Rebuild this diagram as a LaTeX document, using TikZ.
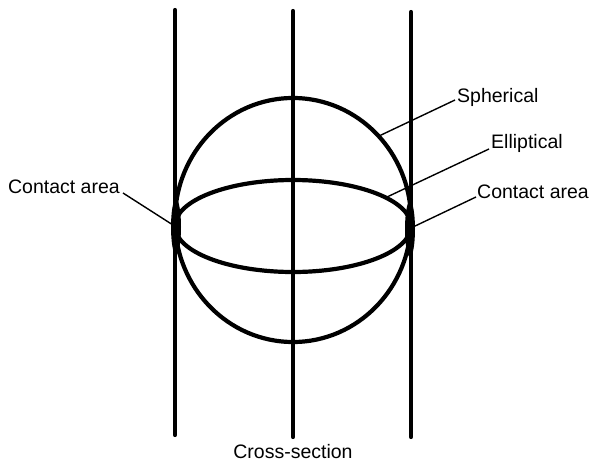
\documentclass[tikz,border=0pt]{standalone}
\usepackage{fontspec}
\setmainfont{Liberation Sans}
\begin{document}
\begin{tikzpicture}[x=1pt,y=-1pt,
  rod/.style={line width=4.2pt,line cap=round},
  ball/.style={line width=4.2pt},
  leader/.style={line width=1.4pt},
  lbl/.style={font=\fontsize{19.5}{21}\selectfont,inner sep=0pt}]
\useasboundingbox (0,0) rectangle (590,463);
% rods
\coordinate (l1) at (175,10); \coordinate (l2) at (175,435);
\coordinate (m1) at (293,11); \coordinate (m2) at (293,437);
\coordinate (r1) at (411,12); \coordinate (r2) at (411,437);
\draw[rod] (l1) -- (l2);
\draw[rod] (m1) -- (m2);
\draw[rod] (r1) -- (r2);
% sphere and ellipse
\draw[ball] (293,220) ellipse [x radius=118, y radius=122];
\draw[ball] (293,226) ellipse [x radius=118, y radius=46];
% contact areas
\fill (176,227) ellipse [x radius=5, y radius=28];
\fill (410,229) ellipse [x radius=5, y radius=28];
% labels
\node[lbl,anchor=west] (sph) at (457,97) {Spherical};
\node[lbl,anchor=west] (ell) at (491,143) {Elliptical};
\node[lbl,anchor=west] (car) at (477,192) {Contact area};
\node[lbl,anchor=east] (cal) at (120,187) {Contact area};
\node[lbl] (cs) at (293,452) {Cross-section};
% leader endpoints
\coordinate (psph) at (379,136);
\coordinate (pell) at (387,197);
\coordinate (pcr) at (413,227);
\coordinate (pcl) at (173,225);
\draw[leader] (sph.west) ++(-2,3) -- (psph);
\draw[leader] (ell.west) ++(-2,6) -- (pell);
\draw[leader] (car.west) ++(-1,5) -- (pcr);
\draw[leader] (cal.east) ++(3,6) -- (pcl);
\end{tikzpicture}
\end{document}
